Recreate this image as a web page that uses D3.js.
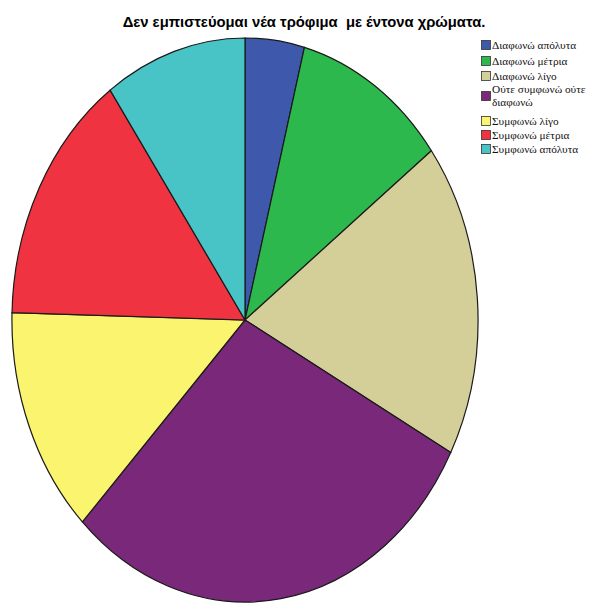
<!DOCTYPE html>
<html>
<head>
<meta charset="utf-8">
<script src="https://cdn.jsdelivr.net/npm/d3@7"></script>
<style>
  body { margin: 0; background: #fff; }
  svg { display: block; }
</style>
</head>
<body>
<svg id="chart" width="591" height="603"></svg>
<script>
// Responses to: "Δεν εμπιστεύομαι νέα τρόφιμα με έντονα χρώματα."
const categories = [
  "Διαφωνώ απόλυτα",
  "Διαφωνώ μέτρια",
  "Διαφωνώ λίγο",
  "Ούτε συμφωνώ ούτε διαφωνώ",
  "Συμφωνώ λίγο",
  "Συμφωνώ μέτρια",
  "Συμφωνώ απόλυτα"
];
const counts = [5, 13, 22, 36, 16, 18, 12];
const colors = ["#3e58ac", "#2db84d", "#d4cf99", "#7a287a", "#fbf46e", "#ef3340", "#48c3c6"];
const legendLines = [
  ["Διαφωνώ απόλυτα"],
  ["Διαφωνώ μέτρια"],
  ["Διαφωνώ λίγο"],
  ["Ούτε συμφωνώ ούτε", "διαφωνώ"],
  ["Συμφωνώ λίγο"],
  ["Συμφωνώ μέτρια"],
  ["Συμφωνώ απόλυτα"]
];

const svg = d3.select("#chart");

svg.append("text")
  .attr("x", 304)
  .attr("y", 27)
  .attr("text-anchor", "middle")
  .attr("font-family", "Liberation Sans, Arial, sans-serif")
  .attr("font-weight", "bold")
  .attr("font-size", 14.8)
  .attr("fill", "#000")
  .style("white-space", "pre")
  .text("Δεν εμπιστεύομαι νέα τρόφιμα  με έντονα χρώματα.");

// Elliptical pie: unit arcs stretched to the plot's radii
const cx = 245, cy = 320, rx = 233, ry = 282;
const pie = d3.pie().sort(null).value(d => d);
const arc = d3.arc().innerRadius(0).outerRadius(1);

const color = d3.scaleOrdinal().domain(categories).range(colors);

const g = svg.append("g")
  .attr("transform", `translate(${cx},${cy}) scale(${rx},${ry})`);

g.selectAll("path")
  .data(pie(counts))
  .join("path")
  .attr("d", arc)
  .attr("fill", (d, i) => color(categories[i]))
  .attr("stroke", "#1a1a1a")
  .attr("stroke-width", 1.2)
  .attr("vector-effect", "non-scaling-stroke");

// Legend
const legendY = [45, 61, 76, 96, 121, 135, 149];
const lg = svg.append("g");
categories.forEach((c, i) => {
  const y = legendY[i];
  lg.append("rect")
    .attr("x", 481.5).attr("y", y - 4.5)
    .attr("width", 9).attr("height", 9)
    .attr("fill", color(c))
    .attr("stroke", "#333").attr("stroke-width", 0.8);
  const lines = legendLines[i];
  const t = lg.append("text")
    .attr("font-family", "Liberation Serif, Times New Roman, serif")
    .attr("font-size", 11.3)
    .attr("fill", "#111");
  if (lines.length === 1) {
    t.append("tspan").attr("x", 492).attr("y", y + 3.5).text(lines[0]);
  } else {
    t.append("tspan").attr("x", 492).attr("y", y - 3).text(lines[0]);
    t.append("tspan").attr("x", 492).attr("y", y + 10).text(lines[1]);
  }
});
</script>
</body>
</html>
